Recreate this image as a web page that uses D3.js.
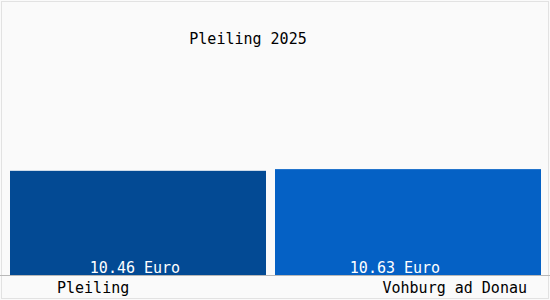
<!DOCTYPE html>
<meta charset="utf-8">
<style>
body { margin: 0; }
svg { background-color: #fafafa; display: block; }
text { font-family: "DejaVu Sans Mono", "Liberation Mono", monospace; font-size: 15px; }
</style>
<svg width="550" height="300"></svg>
<script src="https://d3js.org/d3.v7.min.js"></script>
<script>

var title = "Pleiling 2025";
var places = ["Pleiling", "Vohburg ad Donau"];
var prices = [10.46, 10.63];
var unit = "Euro";
var colors = ["#034a94", "#0561c5"];

var svg = d3.select("svg"),
    width = +svg.attr("width"),
    height = +svg.attr("height");

var baseY = 275,
    plotRight = 541,
    gap = 9;

// left edges of the bars; the last bar runs on to the right edge
var x = d3.scaleBand()
    .domain(places)
    .range([10, 540]);

function barWidth(d, i) {
  return i < places.length - 1 ? x.step() - gap : plotRight - x(d);
}

// value labels sit a bit left of the bar centres
var xLabel = d3.scaleBand()
    .domain(places)
    .range([5, 525]);

var y = d3.scaleLinear()
    .domain([0, 25])
    .range([baseY, baseY - 249]);

// frame
svg.append("rect")
    .attr("x", 1.5).attr("y", 1.5)
    .attr("width", width - 3).attr("height", height - 3)
    .attr("fill", "none")
    .attr("stroke", "#e2e2e2");

svg.append("text")
    .attr("x", 248)
    .attr("y", 44)
    .attr("text-anchor", "middle")
    .attr("fill", "#000")
    .text(title);

svg.append("g")
  .selectAll("rect")
  .data(places)
  .enter().append("rect")
    .attr("x", d => x(d))
    .attr("y", (d, i) => y(prices[i]))
    .attr("width", barWidth)
    .attr("height", (d, i) => baseY - y(prices[i]))
    .attr("fill", (d, i) => colors[i]);

svg.append("line")
    .attr("x1", 0).attr("x2", width)
    .attr("y1", baseY + 0.5).attr("y2", baseY + 0.5)
    .attr("stroke", "#b8b8b8");

svg.append("g")
  .selectAll("text")
  .data(places)
  .enter().append("text")
    .attr("x", d => xLabel(d) + xLabel.bandwidth() / 2)
    .attr("y", 273)
    .attr("text-anchor", "middle")
    .attr("fill", "#fff")
    .text((d, i) => prices[i].toFixed(2) + " " + unit);

svg.append("g")
  .selectAll("text")
  .data(places)
  .enter().append("text")
    .attr("x", (d, i) => i === 0 ? 57 : 527)
    .attr("y", 293)
    .attr("text-anchor", (d, i) => i === 0 ? "start" : "end")
    .attr("fill", "#000")
    .text(d => d);

</script>
